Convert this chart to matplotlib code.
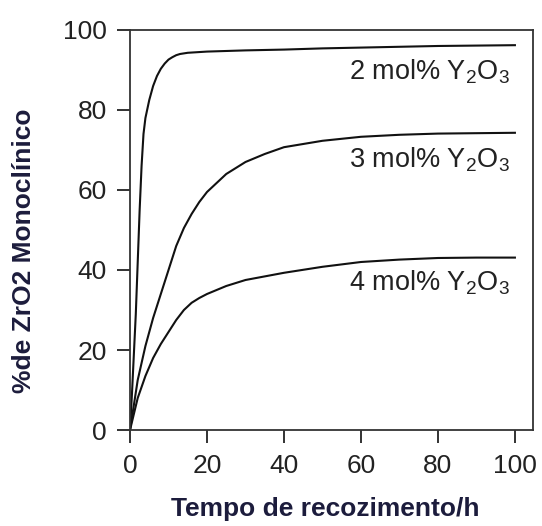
import numpy as np
import matplotlib
matplotlib.use('Agg')
import matplotlib.pyplot as plt
from matplotlib import rcParams

rcParams['font.family'] = ['Liberation Sans', 'DejaVu Sans']
rcParams['mathtext.fontset'] = 'custom'
rcParams['mathtext.rm'] = 'Liberation Sans'
rcParams['mathtext.it'] = 'Liberation Sans'

# tempo (h) e % monoclinico
t_2mol = [0, 0.5, 1, 1.5, 2, 2.5, 3, 3.5, 4, 5, 6, 7, 8, 9, 10, 11, 12, 13, 15,
          20, 30, 40, 50, 60, 70, 80, 90, 100]
m_2mol = [0, 9, 19, 29, 42, 55, 66, 74, 78, 82.5, 86, 88.5, 90.3, 91.6, 92.6, 93.2, 93.7, 94, 94.3,
          94.6, 94.9, 95.1, 95.4, 95.6, 95.8, 96.0, 96.1, 96.2]

t_3mol = [0, 2, 4, 6, 8, 10, 12, 14, 16, 18, 20, 25, 30, 35, 40, 50, 60, 70, 80, 90, 100]
m_3mol = [0, 12.5, 21, 28, 34, 40, 46, 50.5, 54, 57, 59.5, 64, 67, 69, 70.7, 72.3, 73.3, 73.8, 74.1, 74.2, 74.3]

t_4mol = [0, 2, 4, 6, 8, 10, 12, 14, 16, 18, 20, 25, 30, 40, 50, 60, 70, 80, 90, 100]
m_4mol = [0, 8, 13.5, 18, 21.5, 24.5, 27.5, 30, 31.8, 33, 34, 36, 37.5, 39.3, 40.8, 42, 42.6, 43, 43.1, 43.1]

labels = ['2 mol% Y$_2$O$_3$', '3 mol% Y$_2$O$_3$', '4 mol% Y$_2$O$_3$']
label_y = [89.5, 67.5, 36.7]

fig = plt.figure(figsize=(5.42, 5.26), dpi=100)
ax = fig.add_axes([0.2399, 0.1825, 0.9834 - 0.2399, 0.943 - 0.1825])

for t, m in [(t_2mol, m_2mol), (t_3mol, m_3mol), (t_4mol, m_4mol)]:
    ax.plot(t, m, color='#111111', lw=1.5, solid_joinstyle='round')

for lab, yy in zip(labels, label_y):
    ax.text(98.7, yy, lab, ha='right', va='center', fontsize=19.5, color='#222222')

ax.set_xlim(0, 104.7)
ax.set_ylim(0, 100)
ax.set_xticks([0, 20, 40, 60, 80, 100])
ax.set_yticks([0, 20, 40, 60, 80, 100])
ax.tick_params(direction='out', length=9.5, width=1.3, labelsize=19, colors='#222222')
ax.tick_params(axis='x', pad=7.5)
ax.tick_params(axis='y', pad=7)
for s in ax.spines.values():
    s.set_linewidth(1.3)
    s.set_color('#333333')

# rotulos dos eixos (negrito, azul escuro)
lab_font = dict(family=['Liberation Sans Narrow', 'Liberation Sans', 'DejaVu Sans'],
                weight='bold', fontsize=19, color='#1c1c3c')
fig.text(0.5996, 0.0323, 'Tempo de recozimento/h', ha='center', va='center', **lab_font)
fig.text(0.0443, 0.5228, '%de ZrO2 Monoclínico', ha='center', va='center', rotation=90, **lab_font)

plt.savefig('out.png', dpi=100)
plt.close()
